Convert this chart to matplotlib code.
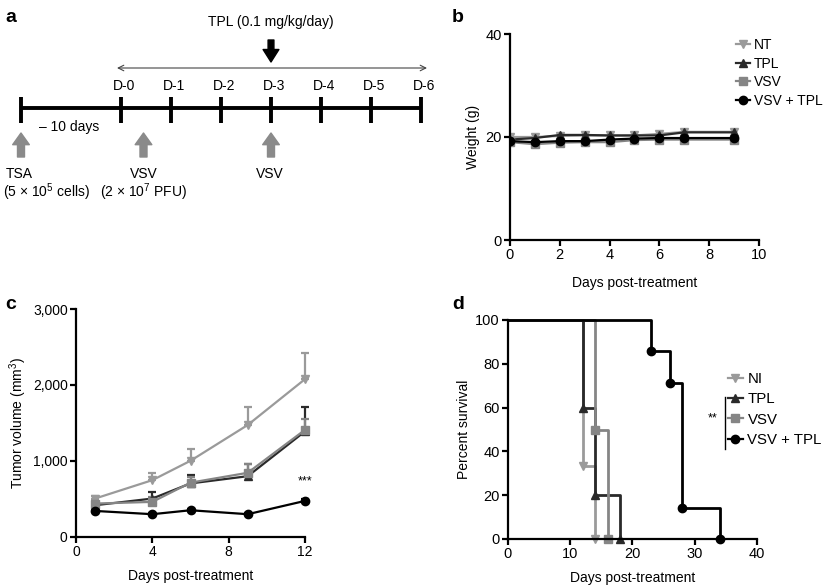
import matplotlib
matplotlib.use("Agg")
import matplotlib.pyplot as plt
import numpy as np
from matplotlib.lines import Line2D

plt.rcParams['font.family'] = ['Liberation Sans', 'DejaVu Sans']
plt.rcParams['mathtext.fontset'] = 'custom'
plt.rcParams['mathtext.rm'] = 'Liberation Sans'
plt.rcParams['font.size'] = 10

W, H = 828, 585
FS = 10

# ---- data ----
groups_b = ["NT", "TPL", "VSV", "VSV + TPL"]
groups_d = ["NI", "TPL", "VSV", "VSV + TPL"]
colors = ["#9a9a9a", "#2a2a2a", "#858585", "#000000"]
markers = ["v", "^", "s", "o"]

# panel a: schedule (days)
sched_days = [0, 1, 2, 3, 4, 5, 6]
sched_labels = ["D-0", "D-1", "D-2", "D-3", "D-4", "D-5", "D-6"]
tsa_day = -2
vsv_days = [0.45, 3]
tpl_day = 3

# panel b: weight (g)
days_b = [0, 1, 2, 3, 4, 5, 6, 7, 9]
weight = [
    [20.0, 20.0, 20.2, 20.3, 20.3, 20.3, 20.6, 21.0, 21.0],
    [19.5, 19.8, 20.4, 20.4, 20.3, 20.3, 20.3, 20.9, 20.9],
    [19.0, 18.6, 18.9, 19.0, 19.0, 19.4, 19.5, 19.5, 19.5],
    [19.2, 19.0, 19.2, 19.2, 19.5, 19.7, 19.8, 19.8, 19.8],
]

# panel c: tumor volume (mm3)
days_c = [1, 4, 6, 9, 12]
volume = [
    [506, 748, 1003, 1474, 2077],
    [418, 506, 705, 800, 1390],
    [440, 462, 715, 845, 1410],
    [343, 300, 352, 300, 475],
]
volume_err = [
    [40, 90, 150, 240, 350],
    [40, 90, 110, 160, 320],
    [30, 60, 80, 110, 140],
    [20, 15, 15, 15, 20],
]

# panel d: survival (%)
surv_t = [[0, 12, 14], [0, 12, 14, 18], [0, 14, 16], [0, 23, 26, 28, 34]]
surv_p = [[100, 33.3, 0], [100, 60, 20, 0], [100, 50, 0], [100, 85.7, 71.4, 14.3, 0]]

fig = plt.figure(figsize=(W / 100, H / 100), dpi=100)


def px_axes(l, t, r, b):
    return fig.add_axes([l / W, 1 - b / H, (r - l) / W, (b - t) / H])


def style(ax, fs=FS):
    for s in ["top", "right"]:
        ax.spines[s].set_visible(False)
    for s in ["left", "bottom"]:
        ax.spines[s].set_linewidth(1.6)
    ax.tick_params(width=1.6, length=4, labelsize=fs, pad=2)


# ---- a: schematic ----
axa = px_axes(0, 0, 440, 290)
axa.set_xlim(-2.42, 6.38)
axa.set_ylim(290, 0)
axa.axis("off")
line_y = 108
axa.plot([tsa_day, sched_days[-1]], [line_y, line_y], color="black", lw=2.8, solid_capstyle="butt")
for d in [tsa_day] + sched_days:
    axa.plot([d, d], [97, 123], color="black", lw=2.8, solid_capstyle="butt")
for d, lab in zip(sched_days, sched_labels):
    axa.text(d + 0.06, 90, lab, ha="center", va="baseline", fontsize=FS)
axa.text(-1.03, 131, "– 10 days", ha="center", va="baseline", fontsize=FS)
axa.annotate("", xy=(-0.08, 68), xytext=(6.12, 68),
             arrowprops=dict(arrowstyle="<->", color="#444444", lw=0.8,
                             mutation_scale=10, shrinkA=0, shrinkB=0))
axa.annotate("", xy=(tpl_day, 62), xytext=(tpl_day, 40),
             arrowprops=dict(arrowstyle="simple,head_length=0.75,head_width=0.95,tail_width=0.35",
                             color="black", mutation_scale=12, shrinkA=0, shrinkB=0))
axa.text(tpl_day, 26, "TPL (0.1 mg/kg/day)", ha="center", va="baseline", fontsize=FS)
for d in [tsa_day] + vsv_days:
    axa.annotate("", xy=(d, 133), xytext=(d, 157),
                 arrowprops=dict(arrowstyle="simple,head_length=0.7,head_width=1.0,tail_width=0.42",
                                 color="#8a8a8a", mutation_scale=12, shrinkA=0, shrinkB=0))
axa.text(tsa_day - 0.3, 178, "TSA", ha="left", va="baseline", fontsize=FS)
axa.text(tsa_day + 0.5, 197, "(5 × 10$^5$ cells)", ha="center", va="baseline", fontsize=FS)
axa.text(vsv_days[0], 178, "VSV", ha="center", va="baseline", fontsize=FS)
axa.text(vsv_days[0], 197, "(2 × 10$^7$ PFU)", ha="center", va="baseline", fontsize=FS)
axa.text(vsv_days[1] - 0.03, 178, "VSV", ha="center", va="baseline", fontsize=FS)

# ---- b: weight ----
axb = px_axes(510, 34, 759, 240)
for i in range(4):
    axb.plot(days_b, weight[i], color=colors[i], marker=markers[i], ms=6, lw=1.6,
             label=groups_b[i])
axb.set_xlim(0, 10)
axb.set_ylim(0, 40)
axb.set_xticks([0, 2, 4, 6, 8, 10])
axb.set_yticks([0, 20, 40])
style(axb, 10.5)
axb.set_ylabel("Weight (g)", fontsize=FS, labelpad=4)
axb.set_xlabel("Days post-treatment", fontsize=FS, labelpad=10)
axb.legend(loc="upper left", bbox_to_anchor=(736 / W, 1 - 38 / H), bbox_transform=fig.transFigure,
           frameon=False, fontsize=FS, handlelength=1.0, handletextpad=0.3, labelspacing=0.33,
           borderpad=0, borderaxespad=0)

# ---- c: tumor volume ----
axc = px_axes(76, 309, 305, 537)
for i in range(4):
    err = np.array(volume_err[i])
    axc.errorbar(days_c, volume[i], yerr=[np.zeros_like(err), err], color=colors[i],
                 marker=markers[i], ms=6, lw=1.6, capsize=3, elinewidth=1.6, capthick=1.6)
axc.text(12, 690, "***", ha="center", va="baseline", fontsize=9)
axc.set_xlim(0, 12)
axc.set_ylim(0, 3000)
axc.set_xticks([0, 4, 8, 12])
axc.set_yticks([0, 1000, 2000, 3000])
axc.set_yticklabels(["0", "1,000", "2,000", "3,000"])
style(axc)
axc.set_ylabel("Tumor volume (mm$^3$)", fontsize=FS, labelpad=3)
axc.set_xlabel("Days post-treatment", fontsize=FS, labelpad=7)
for art in axc.get_children():
    art.set_clip_on(False)

# ---- d: survival ----
axd = px_axes(508, 320, 757, 539)
for i in range(4):
    axd.step(surv_t[i], surv_p[i], where="post", color=colors[i], lw=2,
             marker=markers[i], ms=6, markevery=slice(1, None), label=groups_d[i],
             clip_on=False)
axd.set_xlim(0, 40)
axd.set_ylim(0, 100)
axd.set_xticks([0, 10, 20, 30, 40])
axd.set_yticks([0, 20, 40, 60, 80, 100])
style(axd, 10.5)
axd.set_ylabel("Percent survival", fontsize=FS, labelpad=3)
axd.set_xlabel("Days post-treatment", fontsize=FS, labelpad=7)
leg = axd.legend(loc="upper left", bbox_to_anchor=(728 / W, 1 - 372 / H), bbox_transform=fig.transFigure,
                 frameon=False, fontsize=10.8, handlelength=1.0, handletextpad=0.3, labelspacing=0.42,
                 borderpad=0, borderaxespad=0)
for h in leg.legend_handles:
    h.set_linewidth(1.6)
fig.add_artist(Line2D([725 / W, 725 / W], [1 - 397 / H, 1 - 449 / H], color="black", lw=1))
fig.text(713 / W, 1 - 421 / H, "**", ha="center", va="baseline", fontsize=9)

# panel letters
for lab, x, y in [("a", 5, 22), ("b", 452, 22), ("c", 5, 309), ("d", 452, 309)]:
    fig.text(x / W, 1 - y / H, lab, fontsize=14, fontweight="bold", va="baseline")

fig.savefig("out.png", dpi=100)
